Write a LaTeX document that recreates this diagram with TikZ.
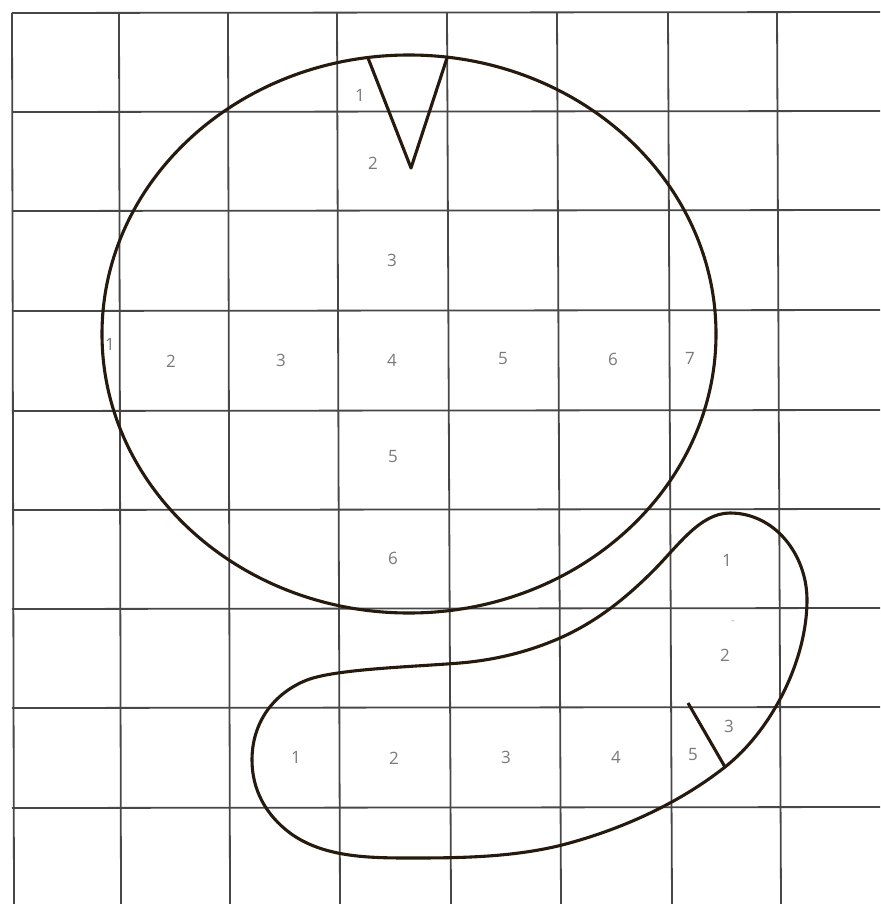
\documentclass[tikz,border=0pt]{standalone}
\usepackage{fontspec}
\setmainfont{Open Sans}
\begin{document}
\begin{tikzpicture}[x=1pt,y=-1pt,
  gridline/.style={draw=black!72,line width=1.8pt},
  shapeline/.style={draw=black!80!brown,line width=3.1pt,line join=round},
  num/.style={text=black!52,font=\fontsize{17}{17}\selectfont,inner sep=0pt}]
\useasboundingbox (0,0) rectangle (880,904);
\fill[white] (0,0) rectangle (880,904);
% grid
\foreach \x/\xb in {12/14,119/121,228/230,337/340,447/451,557/561,668/672,777/781}
  \draw[gridline] (\x,13) -- (\xb,904);
\foreach \y/\yb in {13/12,112/111,211/210,311/310,411/410,510/509,609/608,708/707,808/807}
  \draw[gridline] (12,\y) -- (880,\yb);
% head
\draw[shapeline] (409,334) ellipse [x radius=307, y radius=279];
\coordinate (vl) at (368,58);
\coordinate (vr) at (447,58);
\coordinate (vb) at (411,168);
\draw[shapeline] (vl) -- (vb) -- (vr);
% tail
\draw[shapeline] (730,513)
  .. controls (775,513) and (807,555) .. (807,600)
  .. controls (807,660) and (772,730) .. (725,767)
  .. controls (678,804) and (620,830) .. (562,845)
  .. controls (514,857) and (463,858) .. (413,858)
  .. controls (371,858) and (324,858) .. (290,833)
  .. controls (266,815) and (252,790) .. (252,760)
  .. controls (252,722) and (274,693) .. (307,680)
  .. controls (336,669) and (410,667) .. (460,663)
  .. controls (495,660) and (528,652) .. (560,638)
  .. controls (596,622) and (625,599) .. (653,571)
  .. controls (678,546) and (700,513) .. (730,513) -- cycle;
\coordinate (ta) at (688,703);
\coordinate (tb) at (725,767);
\draw[shapeline] (ta) -- (tb);
% labels: vertical of head
\node[num] (v1) at (360,95) {1};
\node[num] (v2) at (373,163) {2};
\node[num] (v3) at (392,260) {3};
\node[num] (v4) at (392,360) {4};
\node[num] (v5) at (393,457) {5};
\node[num] (v6) at (393,558) {6};
% horizontal of head
\node[num] (h1) at (110,344) {1};
\node[num] (h2) at (171,361) {2};
\node[num] (h3) at (281,360) {3};
\node[num] (h5) at (503,359) {5};
\node[num] (h6) at (613,359) {6};
\node[num] (h7) at (690,358) {7};
% tail loop
\node[num] (t1) at (727,560) {1};
\node[num] (tdot) at (733,622) {\fontsize{8}{8}\selectfont -};
\node[num] (t2) at (725,655) {2};
\node[num] (t3) at (729,726) {3};
\node[num] (t5) at (693,755) {5};
% bottom row
\node[num] (b1) at (296,757) {1};
\node[num] (b2) at (394,758) {2};
\node[num] (b3) at (506,757) {3};
\node[num] (b4) at (616,757) {4};
\end{tikzpicture}
\end{document}
